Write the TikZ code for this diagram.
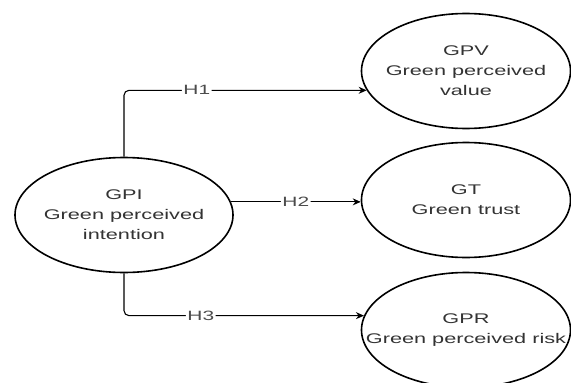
\documentclass[tikz,border=0pt]{standalone}
\usepackage{fontspec}
\setmainfont{Liberation Sans}[FakeStretch=1.55]
\usepackage{tikz}
\usetikzlibrary{arrows.meta,shapes.geometric}

\begin{document}
\begin{tikzpicture}[
    x=1pt, y=-1pt,
    latent/.style={
        ellipse,
        draw,
        line width=1.6pt,
        minimum width=209pt,
        minimum height=115pt,
        inner sep=0pt
    },
    txt/.style={
        align=center,
        text=black!80,
        font=\fontsize{14}{20}\selectfont
    },
    hlab/.style={
        fill=white,
        inner sep=1.5pt,
        text=black!70,
        font=\fontsize{13.5}{16}\selectfont
    },
    arrow/.style={-{Stealth[length=8pt,width=7pt]}, line width=1.1pt, rounded corners=5pt}
]
\clip (0,0) rectangle (571,383);
\fill[white] (0,0) rectangle (571,383);

\node[latent, minimum width=218pt, label={[txt]center:GPI\\Green perceived\\intention}] (gpi) at (124,215) {};
\node[latent, label={[txt]center:GPV\\Green perceived\\value}] (gpv) at (466,71) {};
\node[latent, label={[txt]center:GT\\Green trust}] (gt) at (466,200) {};
\node[latent, label={[txt]center:GPR\\Green perceived risk}] (gpr) at (466,330) {};

\draw[arrow] (gpi.north) |- node[hlab, pos=0.65] {H1} (gpv.191);
\draw[arrow] (gpi.7) -- node[hlab] {H2} (gpi.7 -| gt.west);
\draw[arrow] (gpi.south) |- node[hlab, pos=0.66] {H3} (gpr.172);
\end{tikzpicture}
\end{document}
